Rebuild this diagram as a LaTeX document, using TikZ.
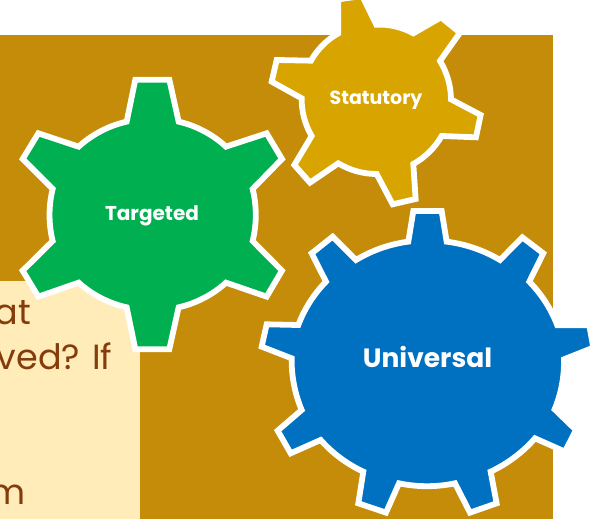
\documentclass[tikz,border=0pt]{standalone}
\usepackage{fontspec}
\setmainfont{Poppins}
\definecolor{bggold}{HTML}{C48C08}
\definecolor{creamy}{HTML}{FFECB8}
\definecolor{brownish}{HTML}{843C0C}
\definecolor{gearG}{HTML}{00B050}
\definecolor{gearY}{HTML}{D8A500}
\definecolor{gearB}{HTML}{0070C0}
\tikzset{
 gearpath/.style={draw=white,line width=5.8pt,line join=miter,miter limit=10,looseness=0.85},
 gearlabel/.style={text=white,font=\bfseries,inner sep=0pt,anchor=base},
 clipped/.style={text=brownish,font=\fontsize{35}{35}\selectfont,inner sep=0pt,anchor=base east}
}
\begin{document}
\begin{tikzpicture}[x=1pt,y=-1pt]
\useasboundingbox (0,0) rectangle (592,519);
\clip (0,0) rectangle (592,519);
\fill[bggold] (0,35) rectangle (553,519);
\fill[creamy] (0,281) rectangle (140,519);
\node[clipped] (lineA) at (31,324) {at};
\node[clipped] (lineB) at (112.7,369) {\spaceskip=9pt\relax ved? If};
\node[clipped] (lineC) at (25.7,504) {m};
% Targeted gear
\begin{scope}[x=0.3333pt,y=-0.3333pt,yshift=-60pt]
\draw[gearpath,fill=gearG] (406,59) -- (508,59) -- (536,185) to[bend left=15] (678,260) -- (800,220) -- (846,297) -- (758,387) to[bend left=14] (758,543) -- (846,632) -- (800,710) -- (678,668) to[bend left=15] (536,742) -- (508,868) -- (406,868) -- (380,742) to[bend left=15] (236,668) -- (115,710) -- (68,632) -- (158,543) to[bend left=14] (158,387) -- (68,297) -- (115,220) -- (236,260) to[bend left=15] (380,185) -- cycle;
\end{scope}
% Statutory gear
\begin{scope}[x=0.3333pt,y=-0.3333pt,xshift=250pt]
\draw[gearpath,fill=gearY] (265,-2) -- (337,-12) -- (379,74) to[bend left=16] (490,100) -- (573,52) -- (630,98) -- (570,183) to[bend left=16] (603,298) -- (692,345) -- (678,412) -- (575,408) to[bend left=16] (490,492) -- (497,597) -- (428,613) -- (380,522) to[bend left=16] (265,490) -- (180,548) -- (133,495) -- (185,408) to[bend left=16] (155,295) -- (65,245) -- (80,180) -- (183,182) to[bend left=16] (265,100) -- cycle;
\end{scope}
% Universal gear
\begin{scope}[x=0.3333pt,y=-0.3333pt,xshift=250pt,yshift=-200pt]
\draw[gearpath,fill=gearB] (490,33) -- (575,33) -- (590,125) to[bend left=12] (750,180) -- (817,112) -- (880,160) -- (838,245) to[bend left=12] (922,376) -- (1018,376) -- (1030,443) -- (942,478) to[bend left=12] (914,628) -- (978,690) -- (945,755) -- (855,715) to[bend left=12] (722,815) -- (740,910) -- (660,938) -- (615,850) to[bend left=12] (447,850) -- (408,938) -- (325,910) -- (340,815) to[bend left=12] (212,720) -- (122,760) -- (83,692) -- (155,630) to[bend left=12] (125,475) -- (35,440) -- (50,373) -- (145,375) to[bend left=12] (228,245) -- (185,160) -- (248,110) -- (318,180) to[bend left=12] (475,125) -- cycle;
\end{scope}
\node[gearlabel,font=\bfseries\fontsize{20}{20}\selectfont] (targeted) at (152,220) {Targeted};
\node[gearlabel,font=\bfseries\fontsize{19}{19}\selectfont] (statutory) at (376,104) {Statutory};
\node[gearlabel,font=\bfseries\fontsize{26.5}{26.5}\selectfont] (universal) at (427.5,367.7) {Universal};
\end{tikzpicture}
\end{document}
